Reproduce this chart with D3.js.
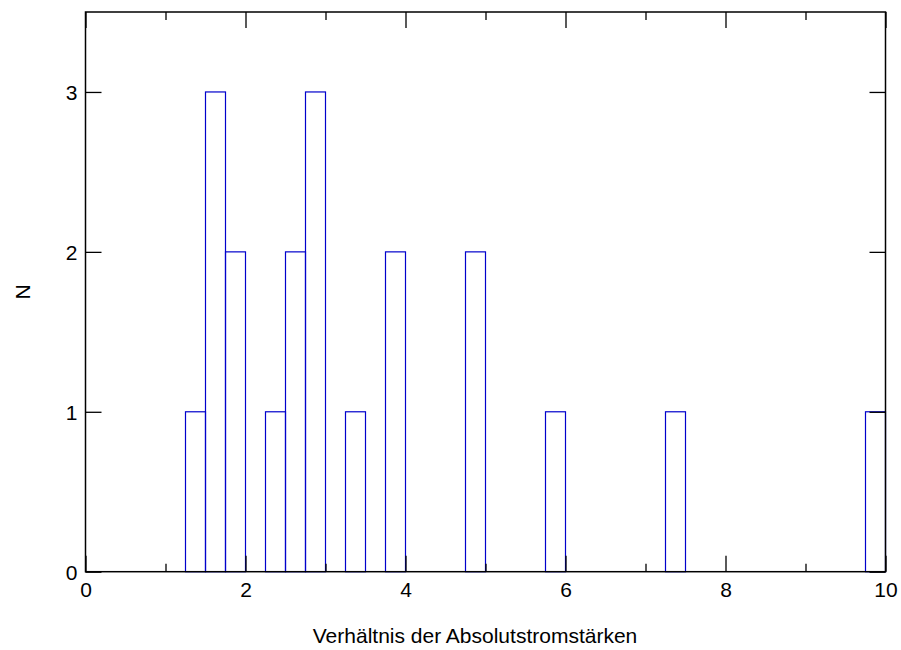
<!DOCTYPE html>
<html>
<head>
<meta charset="utf-8">
<script src="https://cdn.jsdelivr.net/npm/d3@7"></script>
<style>
  body { margin: 0; background: #fff; }
  svg { display: block; font-family: "Liberation Sans", Arial, Helvetica, sans-serif; }
</style>
</head>
<body>
<svg id="chart" width="901" height="650"></svg>
<script>
// Histogram of current-strength ratios, bin width 0.25
const binStarts = [1.25, 1.5, 1.75, 2.25, 2.5, 2.75, 3.25, 3.75, 4.75, 5.75, 7.25, 9.75];
const counts    = [1,    3,   2,    1,    2,   3,    1,    2,    2,    1,    1,    1];
const binWidth = 0.25;
const xMajorTicks = [0, 2, 4, 6, 8, 10];
const xMinorTicks = [1, 3, 5, 7, 9];
const yTicks = [0, 1, 2, 3];
const xTitle = "Verhältnis der Absolutstromstärken";
const yTitle = "N";

const svg = d3.select("#chart");
const plotL = 85.5, plotR = 885.5, plotT = 12, plotB = 571.7;
const fontSize = 21;

const x = d3.scaleLinear().domain([0, 10]).range([plotL, plotR]);
const y = d3.scaleLinear().domain([0, 3.5]).range([plotB, plotT]);

// bars
svg.append("g").selectAll("rect")
  .data(binStarts.map((s, i) => ({ s, c: counts[i] })))
  .join("rect")
  .attr("x", d => x(d.s))
  .attr("y", d => y(d.c))
  .attr("width", d => x(d.s + binWidth) - x(d.s))
  .attr("height", d => y(0) - y(d.c))
  .attr("fill", "none")
  .attr("stroke", "#0000cc")
  .attr("stroke-width", 1.2);

// axes with inward ticks on all four sides
const tickFmt = d3.format("d");
const axB = svg.append("g").attr("transform", `translate(0,${plotB})`)
  .call(d3.axisBottom(x).tickValues(xMajorTicks).tickSizeInner(-16).tickSizeOuter(0).tickPadding(10).tickFormat(tickFmt));
const axBm = svg.append("g").attr("transform", `translate(0,${plotB})`)
  .call(d3.axisBottom(x).tickValues(xMinorTicks).tickSizeInner(-8).tickSizeOuter(0).tickFormat(""));
const axT = svg.append("g").attr("transform", `translate(0,${plotT})`)
  .call(d3.axisTop(x).tickValues(xMajorTicks).tickSizeInner(-16).tickSizeOuter(0).tickFormat(""));
const axTm = svg.append("g").attr("transform", `translate(0,${plotT})`)
  .call(d3.axisTop(x).tickValues(xMinorTicks).tickSizeInner(-8).tickSizeOuter(0).tickFormat(""));
const axL = svg.append("g").attr("transform", `translate(${plotL},0)`)
  .call(d3.axisLeft(y).tickValues(yTicks).tickSizeInner(-16).tickSizeOuter(0).tickPadding(8).tickFormat(tickFmt));
const axR = svg.append("g").attr("transform", `translate(${plotR},0)`)
  .call(d3.axisRight(y).tickValues(yTicks).tickSizeInner(-16).tickSizeOuter(0).tickFormat(""));

[axB, axBm, axT, axTm, axL, axR].forEach(g => {
  g.select(".domain").remove();
  g.selectAll(".tick line").attr("stroke", "#000").attr("stroke-width", 1.3);
  g.selectAll(".tick text").attr("fill", "#000").attr("font-size", fontSize)
    .attr("font-family", "Liberation Sans, Arial, sans-serif");
});
axL.selectAll(".tick text").attr("dy", "0.36em");

// frame
svg.append("rect")
  .attr("x", plotL).attr("y", plotT)
  .attr("width", plotR - plotL).attr("height", plotB - plotT)
  .attr("fill", "none").attr("stroke", "#000").attr("stroke-width", 1.5);

// titles
svg.append("text")
  .attr("x", 475).attr("y", 643)
  .attr("text-anchor", "middle").attr("font-size", fontSize).attr("fill", "#000")
  .text(xTitle);
svg.append("text")
  .attr("transform", `translate(${30},${(plotT + plotB) / 2}) rotate(-90)`)
  .attr("text-anchor", "middle").attr("font-size", fontSize).attr("fill", "#000")
  .text(yTitle);
</script>
</body>
</html>
